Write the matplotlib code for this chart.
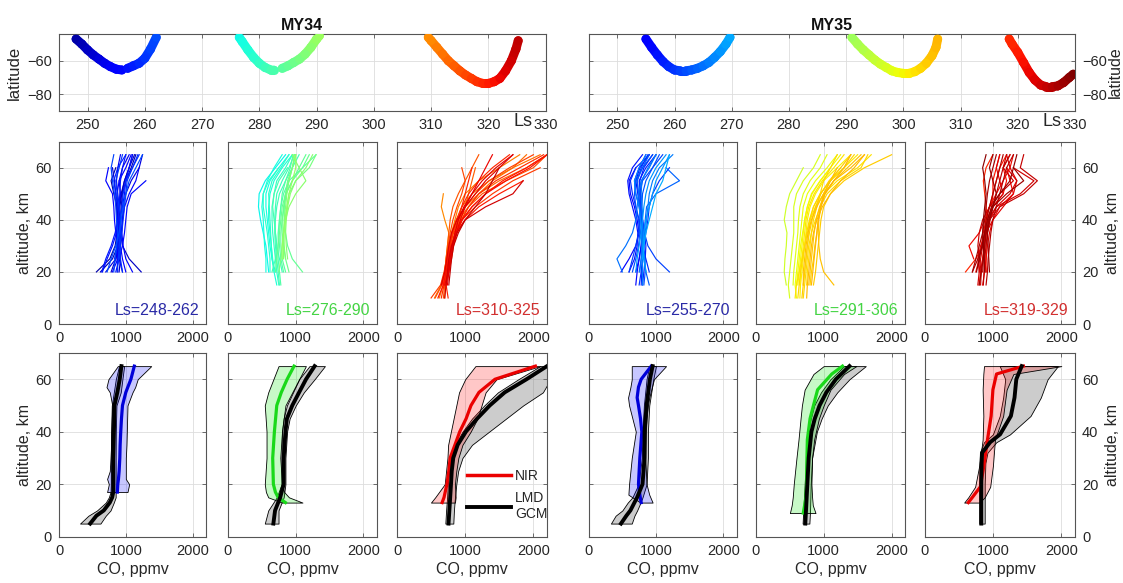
import numpy as np
import matplotlib
matplotlib.use("Agg")
import matplotlib.pyplot as plt
from matplotlib.collections import LineCollection
from matplotlib.lines import Line2D
from matplotlib.colors import Normalize

plt.rcParams['font.family'] = ['Liberation Sans', 'DejaVu Sans']

nan = np.nan

# ---------------- top row: latitude of occultations vs Ls ----------------
my34_ls_a = [248, 249, 250, 251, 252, 253, 254, 255, 256]
my34_lat_a = [-47, -50, -53.5, -56.5, -59, -61.5, -63.5, -65, -65.5]
my34_ls_b = [257, 258, 259, 260, 261, 262]
my34_lat_b = [-64.5, -63, -61.5, -58.5, -53, -46]
my34_ls_c = [276.5, 277, 278, 279, 280, 281, 282, 282.5]
my34_lat_c = [-46, -48.5, -53.5, -58, -61.5, -64, -65.5, -65.5]
my34_ls_d = [284, 285, 286, 287, 288, 289, 290, 290.5]
my34_lat_d = [-64.5, -63, -61, -59, -56, -52, -47, -45]
my34_ls_e = [309.5, 310, 311, 312, 313, 314, 315, 316, 317, 318, 319, 320, 321, 322, 323, 324, 324.8, 325.2]
my34_lat_e = [-46, -48, -52, -56, -60, -63, -66, -68.5, -70.5, -72.5, -73.5, -73.5, -72.5, -70.5, -66, -60, -53, -48]

my35_ls_a = [255, 256, 257, 258, 259, 260, 261, 262, 263, 264, 265, 266, 267, 268, 269, 269.7]
my35_lat_a = [-47, -52, -56.5, -60.5, -63.5, -65.5, -66, -66, -65.5, -64.5, -63, -61, -58, -54.5, -50, -46]
my35_ls_b = [291, 292, 293, 294, 295, 296, 297, 298, 299, 300, 301, 302, 303, 304, 305, 305.7, 306]
my35_lat_b = [-46, -50, -53.5, -56.5, -59.5, -62, -64, -66, -67, -67.5, -67.5, -66.5, -64.5, -61.5, -57, -52, -47]
my35_ls_c = [318.5, 319, 320, 321, 322, 323, 324, 325, 326, 327, 328, 329, 329.7]
my35_lat_c = [-47, -50, -55, -61, -67, -71.5, -74.5, -75.5, -75.5, -75, -73, -70, -68]

# ---------------- middle row: individual CO profiles (ppmv) ----------------
p1_alt = [20, 25, 30, 35, 40, 45, 50, 55, 60, 65]
p1_ls = [248, 249, 250, 251, 252, 253, 254, 255, 256, 257, 258, 259, 260, 262,
         250.5, 253.5, 255.5, 257.5, 259.5, 261]
p1_co = [
    [560, 760, 840, 870, 880, 870, 820, 780, 850, nan],
    [620, 800, 880, 900, 920, 930, 950, 1000, 1080, 1150],
    [1230, 1050, 950, 920, 900, 910, 940, 980, 1050, 1130],
    [900, 920, 900, 880, 870, 860, 850, 830, 800, nan],
    [700, 850, 900, 930, 950, 960, 1000, 1080, 1200, 1250],
    [950, 900, 880, 860, 880, 900, 920, 900, 950, 1050],
    [1100, 1000, 960, 940, 950, 980, 1050, 1150, 1200, nan],
    [800, 880, 870, 850, 830, 820, 800, 700, 740, nan],
    [850, 900, 950, 980, 1000, 1020, 1080, 1300, nan, nan],
    [650, 720, 800, 860, 900, 950, 980, 1000, 1050, 1100],
    [nan, 830, 880, 900, 900, 880, 850, 820, 880, 1000],
    [950, 920, 910, 900, 920, 940, 960, 1000, 1100, 1200],
    [870, 890, 900, 920, 930, 900, 870, 850, 900, 950],
    [720, 780, 850, 900, 930, 960, 1000, 1050, 1150, 1250],
    [780, 850, 880, 890, 880, 900, 930, 980, 1050, 1100],
    [880, 870, 860, 870, 890, 900, 880, 860, 880, 920],
    [1000, 950, 920, 900, 890, 880, 870, 900, 1000, 1080],
    [640, 700, 780, 840, 880, 900, 910, 920, 950, 1000],
    [nan, 900, 920, 940, 960, 980, 1000, 1020, 1100, 1180],
    [820, 840, 860, 880, 860, 850, 830, 800, 780, 820],
]
p2_alt = [15, 20, 25, 30, 35, 40, 45, 50, 55, 60, 65]
p2_ls = [276, 277, 278, 279, 280, 281, 282, 283, 284, 285, 286, 287, 288, 289, 290,
         279.5, 281.5, 283.5, 285.5, 277.5, 288.5]
p2_co = [
    [nan, 600, 580, 560, 520, 480, 450, 460, 550, 700, 850],
    [nan, 700, 650, 620, 600, 580, 560, 560, 620, 750, 900],
    [720, 680, 650, 640, 620, 600, 600, 620, 680, 800, 950],
    [nan, 620, 620, 600, 580, 550, 520, 520, 600, 750, nan],
    [750, 720, 700, 680, 660, 650, 650, 680, 720, 850, 950],
    [nan, 800, 760, 720, 700, 690, 700, 720, 800, 900, 980],
    [nan, 650, 700, 720, 700, 680, 660, 680, 750, 880, nan],
    [780, 760, 740, 740, 740, 760, 780, 820, 900, 950, 1000],
    [nan, 850, 800, 780, 780, 800, 830, 850, 900, 1100, 1300],
    [nan, 1100, 950, 880, 850, 830, 830, 860, 950, 1050, 1150],
    [nan, 900, 850, 820, 800, 800, 820, 850, 880, 950, 1000],
    [nan, 750, 780, 800, 820, 840, 870, 900, 1000, 1200, 1300],
    [nan, nan, 850, 830, 820, 830, 850, 870, 900, 950, 980],
    [nan, nan, 820, 820, 830, 850, 900, 1000, 1150, 1050, 950],
    [nan, nan, 800, 800, 820, 850, 870, 900, 950, 1000, 1000],
    [nan, 680, 660, 640, 630, 620, 610, 600, 650, 780, 900],
    [760, 740, 720, 700, 690, 700, 720, 760, 850, 950, 1050],
    [nan, 820, 780, 760, 750, 760, 780, 800, 850, 920, 960],
    [nan, 700, 720, 740, 760, 780, 800, 850, 950, 1100, 1200],
    [nan, 560, 560, 540, 530, 520, 500, 520, 580, 680, 800],
    [nan, nan, 880, 860, 850, 860, 880, 920, 1000, 1150, 1250],
]
p3_alt = [10, 15, 20, 25, 30, 35, 40, 45, 50, 55, 60, 65]
p3_ls = [310, 311, 312, 313, 314, 315, 316, 317, 318, 319, 320, 321, 322, 323, 324, 325,
         316.5, 318.5, 320.5, 314.5, 322.5, 312.5]
p3_co = [
    [nan, 650, 700, 720, 740, 760, 700, 650, 680, nan, nan, nan],
    [620, 680, 720, 740, 760, 800, 850, 900, 1000, 1200, 1500, 1800],
    [nan, 700, 730, 760, 780, 820, 880, 950, 1100, 1350, 1700, 2100],
    [550, 650, 700, 730, 760, 800, 870, 1000, 1200, 1500, 1900, 2200],
    [nan, 720, 740, 760, 800, 850, 920, 1000, 1050, 1100, 1150, nan],
    [680, 700, 720, 750, 780, 820, 900, 1050, 1250, 1600, 2000, 2200],
    [nan, 680, 700, 720, 750, 780, 820, 880, 950, 1000, 950, nan],
    [500, 640, 690, 730, 770, 830, 950, 1150, 1400, 1700, 2100, nan],
    [nan, 700, 760, 800, 830, 880, 950, 1050, 1200, 1450, 1800, 2150],
    [750, 720, 740, 770, 800, 850, 900, 950, 1000, 1050, 1100, nan],
    [nan, 660, 700, 740, 790, 860, 1000, 1200, 1500, 1850, nan, nan],
    [600, 680, 720, 760, 800, 870, 950, 1100, 1300, 1600, 1950, 2200],
    [nan, 700, 750, 780, 820, 870, 930, 1000, 1100, 1200, 1300, 1400],
    [nan, 650, 700, 730, 760, 800, 880, 1000, 1150, 1300, 1500, 1700],
    [700, 720, 740, 760, 800, 880, 1000, 1300, 1700, 1850, nan, nan],
    [nan, 760, 780, 800, 830, 900, 1000, 1150, 1300, 1400, 1500, nan],
    [nan, 700, 720, 750, 780, 820, 900, 1000, 1150, 1350, 1650, 2000],
    [650, 690, 720, 740, 770, 810, 870, 950, 1050, 1200, 1400, 1650],
    [nan, 720, 760, 790, 820, 870, 960, 1100, 1300, 1550, 1900, 2200],
    [560, 660, 700, 720, 740, 760, 780, 820, 900, 1000, 1100, 1200],
    [nan, 740, 760, 780, 810, 850, 900, 980, 1100, 1250, 1450, 1700],
    [700, 710, 730, 760, 800, 860, 940, 1050, 1200, 1400, 1700, 1900],
]
p4_alt = [15, 20, 25, 30, 35, 40, 45, 50, 55, 60, 65]
p4_ls = [255, 256, 257, 258, 259, 260, 261, 262, 263, 264, 265, 266, 267, 268, 270,
         256.5, 258.5, 260.5, 262.5, 265.5, 268.5]
p4_co = [
    [nan, 480, 600, 700, 750, 720, 680, 620, 600, 700, nan],
    [700, 720, 750, 780, 800, 780, 750, 700, 680, 750, 850],
    [nan, 600, 680, 720, 730, 700, 650, 600, 580, 650, 800],
    [800, 820, 840, 850, 830, 800, 780, 760, 750, 850, 1000],
    [nan, 900, 850, 800, 770, 750, 700, 650, 620, 700, 900],
    [750, 780, 800, 820, 850, 880, 900, 950, 1050, 1200, nan],
    [nan, 1200, 1000, 880, 830, 800, 780, 760, 800, 950, 1100],
    [nan, 650, 700, 740, 760, 740, 700, 680, 700, 800, 950],
    [900, 850, 820, 800, 790, 780, 760, 740, 720, 800, 900],
    [nan, 750, 780, 800, 820, 840, 860, 1000, 1350, 1150, nan],
    [nan, 500, 420, 550, 650, 700, 720, 740, 780, 900, 1000],
    [800, 800, 800, 820, 840, 860, 880, 900, 950, 1050, 1250],
    [nan, 850, 830, 800, 780, 770, 750, 700, 680, 750, 850],
    [nan, 700, 720, 750, 780, 800, 820, 850, 900, 1000, 1150],
    [nan, nan, 800, 820, 850, 900, 950, 1000, 1100, 1150, 1200],
    [nan, 700, 750, 780, 790, 780, 760, 730, 700, 760, 900],
    [780, 790, 800, 810, 800, 790, 780, 770, 760, 820, 950],
    [nan, 600, 650, 700, 740, 760, 760, 740, 720, 780, 880],
    [820, 840, 830, 820, 810, 800, 790, 800, 850, 950, 1050],
    [nan, 760, 780, 790, 800, 800, 790, 780, 790, 880, 1000],
    [nan, 850, 820, 810, 820, 850, 900, 950, 1000, 1100, 1200],
]
p5_alt = [10, 15, 20, 25, 30, 35, 40, 45, 50, 55, 60, 65]
p5_ls = [296, 297, 298, 299, 300, 300.5, 301, 302, 302.5, 303, 303.5, 304, 305, 305.5, 306,
         301.5, 302.8, 304.5, 305.2, 303.8, 299.5]
p5_co = [
    [nan, 450, 420, 430, 450, 460, 420, 450, 500, 600, 700, nan],
    [500, 480, 500, 520, 540, 560, 560, 560, 600, 700, 850, 950],
    [nan, 550, 560, 580, 600, 620, 630, 650, 700, 800, 950, 1050],
    [600, 580, 600, 620, 640, 660, 680, 700, 760, 880, 1050, 1200],
    [nan, 620, 640, 660, 680, 700, 720, 760, 820, 950, 1100, nan],
    [650, 660, 680, 700, 720, 740, 760, 800, 880, 1000, 1200, 1400],
    [nan, 700, 720, 740, 760, 780, 800, 850, 950, 1100, 1300, 1500],
    [580, 600, 640, 680, 720, 760, 800, 880, 1000, 1200, 1500, 1700],
    [nan, 750, 760, 780, 800, 820, 850, 900, 950, 1000, 1100, 1200],
    [700, 720, 740, 760, 780, 820, 880, 950, 1050, 1250, 1550, 1650],
    [nan, 800, 820, 850, 870, 900, 920, 950, 1000, 1100, 1250, nan],
    [nan, 850, 880, 900, 920, 940, 960, 1000, 1100, 1300, 1600, 2000],
    [nan, 1150, 1000, 950, 930, 920, 930, 960, 1000, 1100, 1200, nan],
    [750, 760, 780, 800, 820, 850, 900, 980, 1100, 1250, 1450, 1600],
    [nan, 820, 840, 860, 880, 900, 920, 960, 1020, 1150, 1300, 1400],
    [nan, 650, 660, 680, 700, 720, 740, 780, 860, 980, 1150, 1300],
    [620, 640, 660, 690, 720, 750, 790, 850, 950, 1100, 1300, 1450],
    [nan, 780, 800, 820, 840, 860, 890, 940, 1020, 1150, 1350, 1550],
    [nan, 700, 700, 720, 740, 770, 820, 900, 1000, 1150, 1400, 1600],
    [680, 700, 720, 740, 760, 790, 830, 880, 960, 1080, 1250, 1400],
    [nan, 600, 620, 640, 660, 690, 720, 760, 830, 950, 1100, 1250],
]
p6_alt = [15, 20, 25, 30, 35, 40, 45, 50, 55, 60, 65]
p6_ls = [319, 320, 321, 321.5, 322, 323, 324, 324.5, 325, 326, 327, 328, 329, 322.5,
         323.5, 325.5, 326.5, 327.5, 320.5, 328.5]
p6_co = [
    [nan, 600, 750, 850, 900, 920, 900, 880, 860, 900, 1000],
    [800, 820, 850, 870, 880, 900, 950, 1000, 1050, 1100, 1200],
    [nan, 750, 800, 830, 860, 900, 1000, 1150, 1200, 1150, 1250],
    [nan, nan, 720, 650, 800, 880, 950, 1050, 1150, 1250, 1300],
    [850, 880, 900, 920, 950, 1000, 1100, 1300, 1250, 1200, nan],
    [nan, 900, 880, 870, 880, 920, 1000, 1150, 1100, 1050, 1100],
    [780, 800, 820, 850, 880, 930, 1050, 1400, 1600, 1300, nan],
    [820, 830, 800, 780, 800, 850, 950, 1100, 1300, 1150, 1200],
    [nan, 850, 860, 870, 900, 950, 1100, 1450, 1650, 1400, 1450],
    [900, 920, 930, 950, 970, 1000, 1050, 1100, 1150, 1200, 1300],
    [nan, 700, 750, 800, 850, 880, 900, 920, 950, 1000, 1050],
    [nan, 950, 940, 930, 920, 950, 1000, 1050, 1000, 950, 1000],
    [nan, 880, 870, 860, 850, 860, 880, 900, 880, 850, 900],
    [nan, 800, 780, 820, 900, 1000, 1150, 1300, 1350, 1200, nan],
    [nan, 820, 850, 880, 900, 950, 1050, 1250, 1350, 1250, 1200],
    [860, 870, 880, 900, 920, 960, 1000, 1050, 1100, 1150, 1250],
    [nan, 700, 780, 850, 880, 900, 950, 1000, 1050, 1100, 1150],
    [800, 830, 860, 880, 900, 940, 1000, 1200, 1450, 1300, nan],
    [nan, 900, 900, 900, 920, 950, 980, 1000, 1000, 1050, 1100],
    [nan, 760, 800, 840, 880, 920, 980, 1100, 1250, 1300, 1350],
]
mid_labels = ['Ls=248-262', 'Ls=276-290', 'Ls=310-325', 'Ls=255-270', 'Ls=291-306', 'Ls=319-329']

# ---------------- bottom row: mean NIR and LMD GCM profiles with spread ----------------
b1_nir_alt = [17, 20, 22, 25, 30, 35, 40, 45, 50, 55, 57, 60, 65]
b1_nir_mean = [873, 880, 890, 900, 910, 915, 924, 935, 950, 1000, 1030, 1076, 1127]
b1_nir_lo = [720, 746, 720, 760, 772, 780, 785, 790, 797, 760, 711, 740, 880]
b1_nir_hi = [1025, 1050, 1000, 1000, 1000, 1010, 1015, 1020, 1025, 1100, 1140, 1178, 1380]
b1_gcm_alt = [5, 8, 10, 13, 15, 17, 20, 30, 40, 50, 55, 60, 65]
b1_gcm_mean = [467, 560, 670, 760, 797, 812, 812, 812, 822, 830, 873, 909, 934]
b1_gcm_lo = [315, 440, 569, 700, 746, 771, 775, 775, 780, 790, 820, 850, 898]
b1_gcm_hi = [620, 700, 771, 820, 848, 848, 848, 848, 850, 860, 924, 949, 975]

b2_nir_alt = [13, 15, 17, 20, 30, 40, 50, 55, 60, 65]
b2_nir_mean = [848, 740, 700, 670, 660, 685, 720, 787, 873, 975]
b2_nir_lo = [797, 594, 560, 543, 569, 569, 543, 594, 670, 746]
b2_nir_hi = [1100, 900, 830, 797, 772, 797, 848, 949, 1050, 1150]
b2_gcm_alt = [5, 10, 15, 20, 30, 40, 45, 50, 55, 60, 65]
b2_gcm_mean = [670, 695, 771, 822, 822, 848, 870, 949, 1050, 1152, 1279]
b2_gcm_lo = [543, 594, 720, 790, 790, 797, 820, 870, 960, 1050, 1203]
b2_gcm_hi = [746, 746, 822, 848, 848, 872, 910, 1000, 1120, 1279, 1431]

b3_nir_alt = [13, 15, 20, 25, 30, 35, 40, 45, 50, 55, 60, 65]
b3_nir_mean = [662, 690, 732, 760, 779, 850, 920, 1014, 1085, 1202, 1437, 2030]
b3_nir_lo = [498, 560, 700, 720, 740, 750, 790, 830, 870, 910, 1000, 1150]
b3_nir_hi = [850, 860, 850, 870, 900, 960, 1080, 1180, 1240, 1300, 1460, 2100]
b3_gcm_alt = [5, 10, 15, 20, 25, 30, 35, 40, 45, 50, 55, 60, 65]
b3_gcm_mean = [756, 768, 780, 792, 803, 825, 890, 1010, 1175, 1360, 1580, 1900, 2200]
b3_gcm_lo = [709, 720, 735, 745, 760, 790, 850, 960, 1100, 1280, 1480, 1780, 2100]
b3_gcm_hi = [826, 835, 850, 870, 897, 960, 1100, 1350, 1600, 1850, 2140, 2250, 2250]

b4_nir_alt = [13, 16, 20, 30, 40, 45, 50, 53, 57, 60, 65]
b4_nir_mean = [780, 760, 740, 760, 790, 770, 740, 720, 740, 780, 930]
b4_nir_lo = [770, 590, 600, 640, 700, 650, 600, 585, 620, 640, 640]
b4_nir_hi = [950, 900, 860, 840, 850, 860, 880, 900, 940, 970, 1150]
b4_gcm_alt = [5, 8, 10, 13, 15, 20, 30, 40, 50, 60, 65]
b4_gcm_mean = [480, 560, 620, 680, 720, 800, 830, 830, 860, 910, 950]
b4_gcm_lo = [330, 400, 500, 580, 650, 740, 790, 800, 820, 860, 900]
b4_gcm_hi = [640, 680, 720, 770, 800, 860, 880, 880, 900, 960, 1000]

b5_nir_alt = [9, 12, 15, 20, 30, 37, 45, 50, 56, 62, 65]
b5_nir_mean = [700, 720, 740, 750, 754, 760, 800, 850, 911, 1120, 1277]
b5_nir_lo = [503, 530, 545, 560, 600, 630, 660, 680, 720, 850, 1000]
b5_nir_hi = [880, 840, 830, 820, 830, 860, 930, 1000, 1100, 1300, 1480]
b5_gcm_alt = [5, 10, 20, 30, 40, 45, 50, 55, 60, 65]
b5_gcm_mean = [730, 740, 760, 780, 820, 870, 940, 1040, 1180, 1380]
b5_gcm_lo = [690, 700, 720, 740, 770, 810, 860, 960, 1100, 1300]
b5_gcm_hi = [790, 800, 810, 830, 900, 970, 1060, 1200, 1380, 1620]

b6_nir_alt = [13, 15, 19, 27, 37, 46, 56, 62, 65]
b6_nir_mean = [640, 700, 816, 868, 921, 974, 1000, 1053, 1447]
b6_nir_lo = [580, 640, 740, 800, 850, 860, 850, 860, 870]
b6_nir_hi = [800, 880, 960, 1000, 1030, 1150, 1200, 1300, 2000]
b6_gcm_alt = [5, 10, 20, 28, 32, 36, 39, 46, 53, 60, 65]
b6_gcm_mean = [830, 830, 830, 835, 842, 960, 1105, 1263, 1316, 1342, 1421]
b6_gcm_lo = [800, 800, 800, 805, 810, 870, 1000, 1100, 1150, 1180, 1100]
b6_gcm_hi = [880, 880, 880, 890, 920, 1050, 1250, 1550, 1700, 1800, 1950]

# ---------------- figure ----------------
W, H = 1123, 583
fig = plt.figure(figsize=(W / 100, H / 100), dpi=100)
cmap = plt.get_cmap('jet')
norm = Normalize(245, 330)

SPINE = '#555555'
TXT = '#262626'


def add_ax(x0, x1, y0, y1):
    return fig.add_axes([x0 / W, 1 - y1 / H, (x1 - x0) / W, (y1 - y0) / H])


def style(ax, xlim, ylim, xticks, yticks):
    ax.set_xlim(*xlim)
    ax.set_ylim(*ylim)
    ax.set_xticks(xticks)
    ax.set_yticks(yticks)
    ax.grid(True, color='#dddddd', lw=0.6)
    ax.set_axisbelow(True)
    ax.tick_params(direction='in', length=3, width=0.6, top=True, right=True,
                   color=SPINE, labelcolor=TXT, labelsize=10.5, pad=5)
    for s in ax.spines.values():
        s.set_color(SPINE)
        s.set_linewidth(0.8)


# top row
top_specs = [
    (58.9, 545.7, 'MY34', [(my34_ls_a, my34_lat_a), (my34_ls_b, my34_lat_b), (my34_ls_c, my34_lat_c),
                           (my34_ls_d, my34_lat_d), (my34_ls_e, my34_lat_e)], 'left'),
    (588.7, 1075, 'MY35', [(my35_ls_a, my35_lat_a), (my35_ls_b, my35_lat_b), (my35_ls_c, my35_lat_c)], 'right'),
]
for x0, x1, title, segs, side in top_specs:
    ax = add_ax(x0, x1, 34, 111)
    style(ax, (245, 330), (-90, -44), [250, 260, 270, 280, 290, 300, 310, 320, 330], [-80, -60])
    for ls, lat in segs:
        pts = np.column_stack([ls, lat])
        segments = np.stack([pts[:-1], pts[1:]], axis=1)
        mids = 0.5 * (np.array(ls[:-1]) + np.array(ls[1:]))
        lc = LineCollection(segments, colors=cmap(norm(mids)), linewidths=6.5, capstyle='round',
                            joinstyle='round')
        ax.add_collection(lc)
        ax.scatter(ls, lat, c=cmap(norm(np.array(ls))), s=40, linewidths=0, zorder=3)
    ax.set_title(title, fontsize=11.5, fontweight='bold', pad=3, color='#111111')
    if side == 'left':
        ax.set_ylabel('latitude', fontsize=12, color=TXT, labelpad=4)
        ax.tick_params(labelleft=True, labelright=False)
    else:
        ax.yaxis.set_label_position('right')
        ax.set_ylabel('latitude', fontsize=11.5, color=TXT, labelpad=1)
        ax.tick_params(labelleft=False, labelright=True)
    fig.text((x1 - 13) / W, 1 - 126 / H, 'Ls', fontsize=13, color=TXT, ha='right', va='baseline')

# panel x positions
col_x = [(59, 206), (228, 377), (397, 547), (588.7, 736.7), (755.7, 905.2), (924.5, 1075)]
label_cols = ['#2a2aa6', '#44d444', '#d23030', '#2a2aa6', '#44d444', '#d23030']

mid_sets = [(p1_alt, p1_ls, p1_co), (p2_alt, p2_ls, p2_co), (p3_alt, p3_ls, p3_co),
            (p4_alt, p4_ls, p4_co), (p5_alt, p5_ls, p5_co), (p6_alt, p6_ls, p6_co)]

for i, ((x0, x1), (alt, lsv, prof)) in enumerate(zip(col_x, mid_sets)):
    ax = add_ax(x0, x1, 141.7, 324)
    style(ax, (0, 2200), (0, 70), [0, 1000, 2000], [0, 20, 40, 60])
    order = np.argsort(lsv)
    for k in order:
        ax.plot(prof[k], alt, color=cmap(norm(lsv[k])), lw=0.85)
    ax.text(0.955, 0.035, mid_labels[i], transform=ax.transAxes, ha='right', va='bottom',
            fontsize=11.5, color=label_cols[i])
    if i == 0:
        ax.set_ylabel('altitude, km', fontsize=11.5, color=TXT, labelpad=3)
        ax.tick_params(labelleft=True, labelright=False)
    elif i == 5:
        ax.yaxis.set_label_position('right')
        ax.set_ylabel('altitude, km', fontsize=11.5, color=TXT, labelpad=5)
        ax.tick_params(labelleft=False, labelright=True)
    else:
        ax.tick_params(labelleft=False, labelright=False)

bot_sets = [
    (b1_nir_alt, b1_nir_mean, b1_nir_lo, b1_nir_hi, b1_gcm_alt, b1_gcm_mean, b1_gcm_lo, b1_gcm_hi),
    (b2_nir_alt, b2_nir_mean, b2_nir_lo, b2_nir_hi, b2_gcm_alt, b2_gcm_mean, b2_gcm_lo, b2_gcm_hi),
    (b3_nir_alt, b3_nir_mean, b3_nir_lo, b3_nir_hi, b3_gcm_alt, b3_gcm_mean, b3_gcm_lo, b3_gcm_hi),
    (b4_nir_alt, b4_nir_mean, b4_nir_lo, b4_nir_hi, b4_gcm_alt, b4_gcm_mean, b4_gcm_lo, b4_gcm_hi),
    (b5_nir_alt, b5_nir_mean, b5_nir_lo, b5_nir_hi, b5_gcm_alt, b5_gcm_mean, b5_gcm_lo, b5_gcm_hi),
    (b6_nir_alt, b6_nir_mean, b6_nir_lo, b6_nir_hi, b6_gcm_alt, b6_gcm_mean, b6_gcm_lo, b6_gcm_hi),
]
fill_cols = [(0, 0, 1), (0, 0.9, 0), (1, 0, 0), (0, 0, 1), (0, 0.9, 0), (1, 0, 0)]
line_cols = [(0, 0, 0.85), (0.1, 0.85, 0.1), (0.92, 0, 0), (0, 0, 0.85), (0.1, 0.85, 0.1), (0.92, 0, 0)]

for i, ((x0, x1), d) in enumerate(zip(col_x, bot_sets)):
    na, nm, nl, nh, ga, gm, gl, gh = d
    ax = add_ax(x0, x1, 353, 536.7)
    style(ax, (0, 2200), (0, 70), [0, 1000, 2000], [0, 20, 40, 60])
    ax.fill_betweenx(ga, gl, gh, facecolor=(0.5, 0.5, 0.5, 0.4), edgecolor='k', lw=0.6, zorder=2)
    ax.fill_betweenx(na, nl, nh, facecolor=fill_cols[i] + (0.22,), edgecolor='k', lw=0.6, zorder=2)
    ax.plot(nm, na, color=line_cols[i], lw=2.3, zorder=3)
    ax.plot(gm, ga, color='k', lw=2.8, zorder=4)
    ax.set_xlabel('CO, ppmv', fontsize=11.5, color=TXT, labelpad=3)
    if i == 0:
        ax.set_ylabel('altitude, km', fontsize=11.5, color=TXT, labelpad=3)
        ax.tick_params(labelleft=True, labelright=False)
    elif i == 5:
        ax.yaxis.set_label_position('right')
        ax.set_ylabel('altitude, km', fontsize=11.5, color=TXT, labelpad=5)
        ax.tick_params(labelleft=False, labelright=True)
    else:
        ax.tick_params(labelleft=False, labelright=False)
    if i == 2:
        handles = [Line2D([], [], color=(0.92, 0, 0), lw=2.5), Line2D([], [], color='k', lw=2.8)]
        ax.legend(handles, ['NIR', 'LMD\nGCM'], loc='lower left', bbox_to_anchor=(0.4, 0.03),
                  frameon=False, fontsize=10, handlelength=3.2, handletextpad=0.3,
                  labelspacing=0.6, borderpad=0.2, labelcolor=TXT)

fig.savefig('out.png', dpi=100)
